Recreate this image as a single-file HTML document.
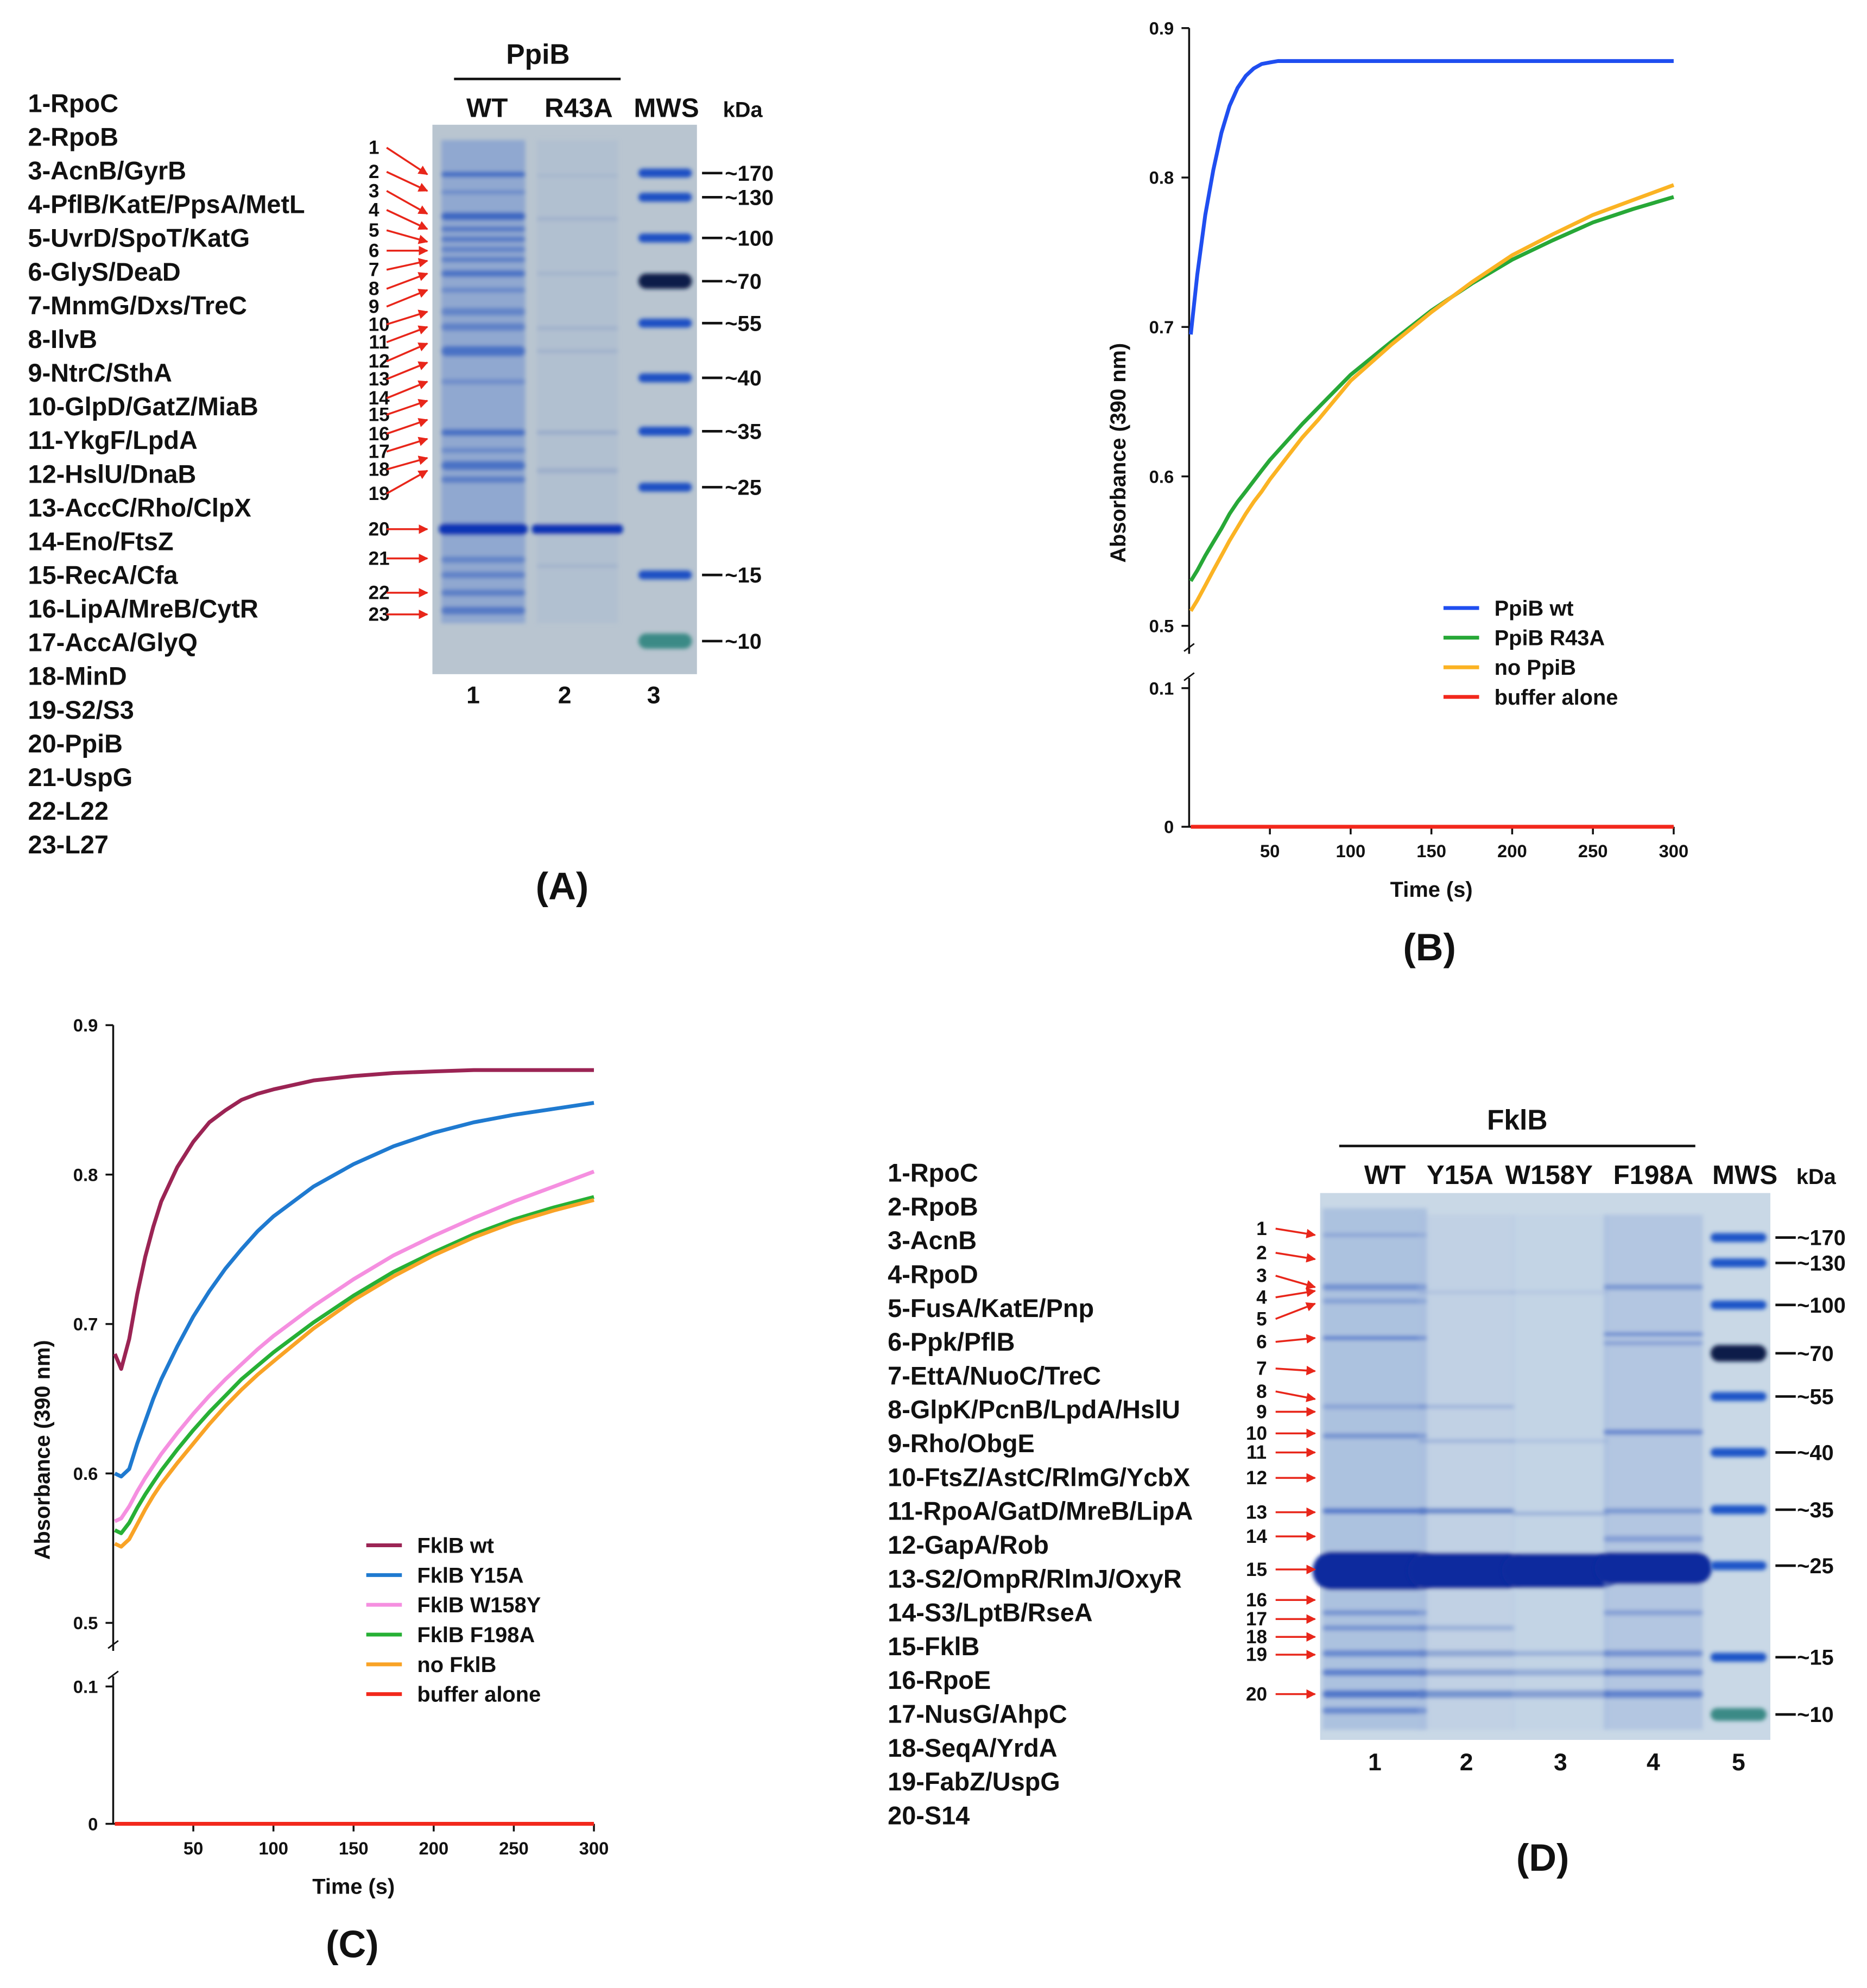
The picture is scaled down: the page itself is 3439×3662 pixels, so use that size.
<!DOCTYPE html>
<html><head><meta charset="utf-8">
<style>
html,body{margin:0;padding:0;background:#fff;}
svg{display:block;}
text{font-family:"Liberation Sans Narrow","Liberation Sans",sans-serif;font-weight:bold;fill:#111;}
</style></head>
<body>
<svg id="fig" width="3439" height="3662" viewBox="0 0 1468 1563" xmlns="http://www.w3.org/2000/svg">
<defs>
<filter id="blur1"><feGaussianBlur stdDeviation="1.6"/></filter>
<marker id="arr" viewBox="0 0 10 10" refX="9" refY="5" markerWidth="5" markerHeight="5" orient="auto"><path d="M0,0L10,5L0,10z" fill="#e8261a"/></marker>
</defs>
<g id="panelA"></g>
<g id="panelB"></g>
<g id="panelC"></g>
<g id="panelD"></g>
</svg>
<script>
// ---------- data ----------
const proteinsA = ["1-RpoC","2-RpoB","3-AcnB/GyrB","4-PflB/KatE/PpsA/MetL","5-UvrD/SpoT/KatG","6-GlyS/DeaD","7-MnmG/Dxs/TreC","8-IlvB","9-NtrC/SthA","10-GlpD/GatZ/MiaB","11-YkgF/LpdA","12-HslU/DnaB","13-AccC/Rho/ClpX","14-Eno/FtsZ","15-RecA/Cfa","16-LipA/MreB/CytR","17-AccA/GlyQ","18-MinD","19-S2/S3","20-PpiB","21-UspG","22-L22","23-L27"];
const proteinsD = ["1-RpoC","2-RpoB","3-AcnB","4-RpoD","5-FusA/KatE/Pnp","6-Ppk/PflB","7-EttA/NuoC/TreC","8-GlpK/PcnB/LpdA/HslU","9-Rho/ObgE","10-FtsZ/AstC/RlmG/YcbX","11-RpoA/GatD/MreB/LipA","12-GapA/Rob","13-S2/OmpR/RlmJ/OxyR","14-S3/LptB/RseA","15-FklB","16-RpoE","17-NusG/AhpC","18-SeqA/YrdA","19-FabZ/UspG","20-S14"];
const markerLabels = ["~170","~130","~100","~70","~55","~40","~35","~25","~15","~10"];

const timesB = [1,5,10,15,20,25,30,35,40,45,50,55,60,70,80,100,125,150,175,200,225,250,275,300];
const ppibWt =   [0.695,0.735,0.775,0.805,0.83,0.848,0.86,0.868,0.873,0.876,0.877,0.878,0.878,0.878,0.878,0.878,0.878,0.878,0.878,0.878,0.878,0.878,0.878,0.878];
const ppibR43A = [0.53,0.537,0.547,0.556,0.565,0.575,0.583,0.59,0.597,0.604,0.611,0.617,0.623,0.635,0.646,0.668,0.69,0.711,0.729,0.745,0.758,0.77,0.779,0.787];
const noPpib =   [0.51,0.517,0.527,0.537,0.547,0.557,0.566,0.575,0.583,0.59,0.598,0.605,0.612,0.626,0.638,0.664,0.688,0.71,0.73,0.748,0.762,0.775,0.785,0.795];
const bufferB =  [0,0,0,0,0,0,0,0,0,0,0,0,0,0,0,0,0,0,0,0,0,0,0,0];

const timesC = [1,5,10,15,20,25,30,40,50,60,70,80,90,100,125,150,175,200,225,250,275,300];
const fklbWt =  [0.68,0.67,0.69,0.72,0.745,0.765,0.782,0.805,0.822,0.835,0.843,0.85,0.854,0.857,0.863,0.866,0.868,0.869,0.87,0.87,0.87,0.87];
const fklbY15A = [0.60,0.598,0.603,0.62,0.635,0.65,0.663,0.685,0.705,0.722,0.737,0.75,0.762,0.772,0.792,0.807,0.819,0.828,0.835,0.84,0.844,0.848];
const fklbW158Y = [0.568,0.57,0.578,0.588,0.597,0.605,0.613,0.627,0.64,0.652,0.663,0.673,0.683,0.692,0.712,0.73,0.746,0.759,0.771,0.782,0.792,0.802];
const fklbF198A = [0.562,0.56,0.567,0.577,0.586,0.594,0.602,0.616,0.629,0.641,0.652,0.663,0.672,0.681,0.701,0.719,0.735,0.748,0.76,0.77,0.778,0.785];
const noFklb = [0.553,0.551,0.556,0.566,0.576,0.585,0.593,0.607,0.62,0.633,0.645,0.656,0.666,0.675,0.697,0.716,0.732,0.746,0.758,0.768,0.776,0.783];
const bufferC = [0,0,0,0,0,0,0,0,0,0,0,0,0,0,0,0,0,0,0,0,0,0];

const xTicks = [50,100,150,200,250,300];
const yTicksUpper = [0.5,0.6,0.7,0.8,0.9];
const yTicksLower = [0,0.1];
const legendB = ["PpiB wt","PpiB R43A","no PpiB","buffer alone"];
const legendC = ["FklB wt","FklB Y15A","FklB W158Y","FklB F198A","no FklB","buffer alone"];

// ---------- helpers ----------
const NS="http://www.w3.org/2000/svg";
function mk(parent,tag,attrs,txt){const e=document.createElementNS(NS,tag);for(const k in attrs)e.setAttribute(k,attrs[k]);if(txt!==undefined)e.textContent=txt;parent.appendChild(e);return e;}

// ---------- gels ----------
function gel(g,cfg){
  const r=mk(g,'rect',{x:cfg.x,y:cfg.y,width:cfg.w,height:cfg.h,fill:cfg.bg});
  
  
  cfg.lanes.forEach((ln,i)=>{
    const lg=mk(g,'g',{filter:'url(#blur1)'});
    
    
    if(ln.smear) mk(lg,'rect',{x:ln.x-ln.w/2,y:ln.smear[0],width:ln.w,height:ln.smear[1]-ln.smear[0],fill:ln.smearCol,opacity:ln.smearOp});
    ln.bands.forEach(b=>{
      mk(lg,'rect',{x:ln.x-(b[3]||ln.w)/2,y:b[0]-b[1]/2,width:b[3]||ln.w,height:b[1],rx:b[1]/2,fill:b[4]||ln.col,opacity:b[2]});
    });
  });
}

// ---------- Panel A ----------
(function(){
  const g=document.getElementById('panelA');
  proteinsA.forEach((p,i)=>{const t=mk(g,'text',{x:22,y:88+i*26.5,'font-size':20},p);
    
    });
  const title=mk(g,'text',{x:423,y:50,'font-size':22,'text-anchor':'middle'},'PpiB');
  
  mk(g,'line',{x1:357,x2:488,y1:62,y2:62,stroke:'#111','stroke-width':2});
  [['WT',383],['R43A',455],['MWS',524],['kDa',584]].forEach(h=>{const t=mk(g,'text',{x:h[1],y:92,'font-size':h[0]=='kDa'?17:21,'text-anchor':'middle'},h[0]);
    });
  const mkY=[136,155,187,221,254,297,339,383,452,504];
  const wtB=[[137,4,.8],[151,3,.4],[170,6,.85],[180,4,.6],[188,4,.6],[196,4,.5],[204,4,.55],[215,5,.7],[228,4,.4],[245,6,.45],[257,6,.5],[276,8,.7],[300,4,.35],[340,5,.75],[354,4,.4],[366,7,.7],[377,5,.55],[416,9,1,70,'#0b35b5'],[440,5,.45],[452,5,.5],[466,5,.55],[480,6,.6]];
  const r43=[[138,2,.15],[172,3,.2],[215,3,.15],[258,3,.2],[276,3,.2],[340,3,.3],[370,4,.25],[416,8,1,72,'#0b35b5'],[445,3,.15]];
  gel(g,{x:340,y:98,w:208,h:432,bg:'#b9c5d0',lanes:[
    {x:380,w:66,col:'#2d5cc0',bands:wtB,smear:[110,490],smearCol:'#6d8fcf',smearOp:.55},
    {x:454,w:64,col:'#5878b8',bands:r43,smear:[110,490],smearCol:'#9fb2d2',smearOp:.3},
    {x:523,w:42,col:'#1746c0',bands:mkY.map((y,i)=>[y,i==3?12:(i==9?12:7),1,42,i==3?'#0d1c4a':(i==9?'#3a8a86':'#1a4fc4')])}
  ]});
  mkY.forEach((y,i)=>{mk(g,'line',{x1:552,x2:568,y1:y,y2:y,stroke:'#111','stroke-width':2});
    const t=mk(g,'text',{x:570,y:y+6,'font-size':17},markerLabels[i]);
    });
  const ny=[116,135,150,165,181,197,212,227,241,255,269,284,298,313,326,341,355,369,388,416,439,466,483];
  const ty=[137,150,168,180,190,197,205,215,228,245,257,270,285,300,315,330,345,360,370,416,439,466,483];
  ny.forEach((y,i)=>{const t=mk(g,'text',{x:i<9?294:298,y:y+5,'font-size':15,'text-anchor':'middle'},String(i+1));
    
    mk(g,'line',{x1:304,y1:y,x2:336,y2:ty[i],stroke:'#e8261a','stroke-width':1.5,'marker-end':'url(#arr)'});});
  [[372,'1'],[444,'2'],[514,'3']].forEach(l=>mk(g,'text',{x:l[0],y:553,'font-size':19,'text-anchor':'middle'},l[1]));
  const lab=mk(g,'text',{x:442,y:707,'font-size':30,'text-anchor':'middle'},'(A)');
  
})();

// ---------- Panel D ----------
(function(){
  const g=document.getElementById('panelD');
  proteinsD.forEach((p,i)=>{const t=mk(g,'text',{x:698,y:929+i*26.6,'font-size':20},p);
    });
  const title=mk(g,'text',{x:1193,y:888,'font-size':22,'text-anchor':'middle'},'FklB');
  
  mk(g,'line',{x1:1053,x2:1333,y1:901,y2:901,stroke:'#111','stroke-width':2});
  [['WT',1089],['Y15A',1148],['W158Y',1218],['F198A',1300],['MWS',1372],['kDa',1428]].forEach(h=>{const t=mk(g,'text',{x:h[1],y:931,'font-size':h[0]=='kDa'?17:21,'text-anchor':'middle'},h[0]);
    });
  const mkY=[973,993,1026,1064,1098,1142,1187,1231,1303,1348];
  const big='#0a2a9e';
  const lanes=[
    {x:1081,w:82,col:'#3a64c4',smear:[950,1360],smearCol:'#8aa6d8',smearOp:.45,bands:[[971,3,.3],[1012,5,.5],[1023,4,.35],[1052,3,.7],[1106,4,.3],[1129,4,.5],[1188,4,.8],[1235,30,1,98,big],[1268,4,.5],[1280,4,.5],[1300,5,.6],[1315,5,.7],[1332,6,.8],[1345,5,.6]]},
    {x:1153,w:76,col:'#4f74c4',smear:[955,1360],smearCol:'#a8bde0',smearOp:.25,bands:[[1016,3,.15],[1106,3,.3],[1133,3,.3],[1188,4,.8],[1235,28,1,92,big],[1280,4,.35],[1300,5,.45],[1315,5,.5],[1332,6,.65]]},
    {x:1227,w:76,col:'#5a7cc6',smear:[955,1360],smearCol:'#aec2e2',smearOp:.22,bands:[[1016,3,.12],[1133,3,.2],[1190,3,.4],[1235,27,1,92,big],[1300,4,.4],[1315,5,.45],[1332,6,.6]]},
    {x:1300,w:78,col:'#3e67c4',smear:[955,1360],smearCol:'#90abd9',smearOp:.4,bands:[[1012,4,.5],[1049,3,.6],[1056,3,.4],[1126,4,.65],[1188,4,.5],[1210,5,.4],[1233,25,1,92,big],[1268,4,.4],[1300,5,.55],[1315,5,.6],[1332,6,.7]]},
    {x:1367,w:44,col:'#1a4fc4',bands:mkY.map((y,i)=>[y,i==3?13:(i==9?10:7),1,44,i==3?'#0d1c4a':(i==9?'#3a8a86':'#1d55c8')])}
  ];
  gel(g,{x:1038,y:938,w:354,h:430,bg:'#c9d8e6',lanes:lanes});
  mkY.forEach((y,i)=>{mk(g,'line',{x1:1396,x2:1412,y1:y,y2:y,stroke:'#111','stroke-width':2});
    const t=mk(g,'text',{x:1413,y:y+6,'font-size':17},markerLabels[i]);
    });
  const ny=[966,985,1003,1020,1037,1055,1076,1094,1110,1127,1142,1162,1189,1208,1234,1258,1273,1287,1301,1332];
  const ty=[971,990,1012,1015,1025,1052,1078,1100,1110,1127,1142,1162,1189,1208,1234,1258,1273,1287,1301,1332];
  ny.forEach((y,i)=>{const t=mk(g,'text',{x:i<9?992:988,y:y+5,'font-size':15,'text-anchor':'middle'},String(i+1));
    
    mk(g,'line',{x1:1003,y1:y,x2:1034,y2:ty[i],stroke:'#e8261a','stroke-width':1.5,'marker-end':'url(#arr)'});});
  [[1081,'1'],[1153,'2'],[1227,'3'],[1300,'4'],[1367,'5']].forEach(l=>mk(g,'text',{x:l[0],y:1392,'font-size':19,'text-anchor':'middle'},l[1]));
  const lab=mk(g,'text',{x:1213,y:1471,'font-size':30,'text-anchor':'middle'},'(D)');
  
})();

// ---------- kinetics charts ----------
function chart(g,c,times,series,colors,legend){
  const sx=t=>c.x0+t*(c.x300-c.x0)/300;
  const sy=v=>v>=0.45 ? c.y05-(v-0.5)*(c.y05-c.y09)/0.4 : c.y0-v*(c.y0-c.y01)/0.1;
  const ax=mk(g,'g',{});
  
  mk(ax,'line',{x1:c.x0,x2:c.x0,y1:c.y09,y2:c.y05+22,stroke:'#111','stroke-width':1.5});
  mk(ax,'line',{x1:c.x0,x2:c.x0,y1:c.y01-8,y2:c.y0,stroke:'#111','stroke-width':1.5});
  mk(ax,'path',{d:`M${c.x0-4},${c.y05+20} l8,-6 M${c.x0-4},${c.y01-6} l8,-6`,stroke:'#111','stroke-width':1.2,fill:'none'});
  mk(ax,'line',{x1:c.x0,x2:c.x300,y1:c.y0,y2:c.y0,stroke:'#111','stroke-width':1.5});
  yTicksUpper.forEach(v=>{mk(ax,'line',{x1:c.x0-6,x2:c.x0,y1:sy(v),y2:sy(v),stroke:'#111','stroke-width':1.5});
    const t=mk(ax,'text',{x:c.x0-12,y:sy(v)+5,'font-size':14,'text-anchor':'end'},v.toFixed(1));
    });
  yTicksLower.forEach(v=>{mk(ax,'line',{x1:c.x0-6,x2:c.x0,y1:sy(v),y2:sy(v),stroke:'#111','stroke-width':1.5});
    const t=mk(ax,'text',{x:c.x0-12,y:sy(v)+5,'font-size':14,'text-anchor':'end'},v===0?'0':v.toFixed(1));
    });
  xTicks.forEach(v=>{mk(ax,'line',{x1:sx(v),x2:sx(v),y1:c.y0,y2:c.y0+6,stroke:'#111','stroke-width':1.5});
    const t=mk(ax,'text',{x:sx(v),y:c.y0+24,'font-size':14,'text-anchor':'middle'},String(v));
    });
  const xt=mk(ax,'text',{x:(c.x0+c.x300)/2,y:c.y0+55,'font-size':17,'text-anchor':'middle'},'Time (s)');
  
  const ycx=c.x0-50, ycy=(c.y09+c.y0)/2+20;
  const yt=mk(ax,'text',{x:ycx,y:ycy,'font-size':17,'text-anchor':'middle',transform:`rotate(-90 ${ycx} ${ycy})`},'Absorbance (390 nm)');
  
  series.forEach((s,i)=>{
    const pts=times.map((t,j)=>sx(t).toFixed(1)+','+sy(s[j]).toFixed(1)).join(' ');
    const pl=mk(g,'polyline',{points:pts,fill:'none',stroke:colors[i],'stroke-width':3,'stroke-linejoin':'round'});
    
    
  });
  legend.forEach((l,i)=>{
    const y=c.ly+i*c.lstep;
    const lg=mk(g,'g',{});
    
    mk(lg,'line',{x1:c.lx,x2:c.lx+28,y1:y,y2:y,stroke:colors[i],'stroke-width':3});
    mk(lg,'text',{x:c.lx+40,y:y+6,'font-size':17},l);
  });
}
chart(document.getElementById('panelB'),{x0:935,x300:1316,y09:22,y05:492,y01:541,y0:650,lx:1135,ly:478,lstep:23.3},
  timesB,[ppibWt,ppibR43A,noPpib,bufferB],['#1f4ef0','#27a837','#fbb323','#f2281c'],legendB);
chart(document.getElementById('panelC'),{x0:89,x300:467,y09:806,y05:1276,y01:1326,y0:1434,lx:288,ly:1215,lstep:23.4},
  timesC,[fklbWt,fklbY15A,fklbW158Y,fklbF198A,noFklb,bufferC],['#9b2454','#1f7ad0','#f58fe0','#27b035','#f9a326','#f2281c'],legendC);
(function(){
  const b=mk(document.getElementById('panelB'),'text',{x:1124,y:755,'font-size':30,'text-anchor':'middle'},'(B)');
  
  const c=mk(document.getElementById('panelC'),'text',{x:277,y:1539,'font-size':30,'text-anchor':'middle'},'(C)');
  
})();
</script>
</body></html>
